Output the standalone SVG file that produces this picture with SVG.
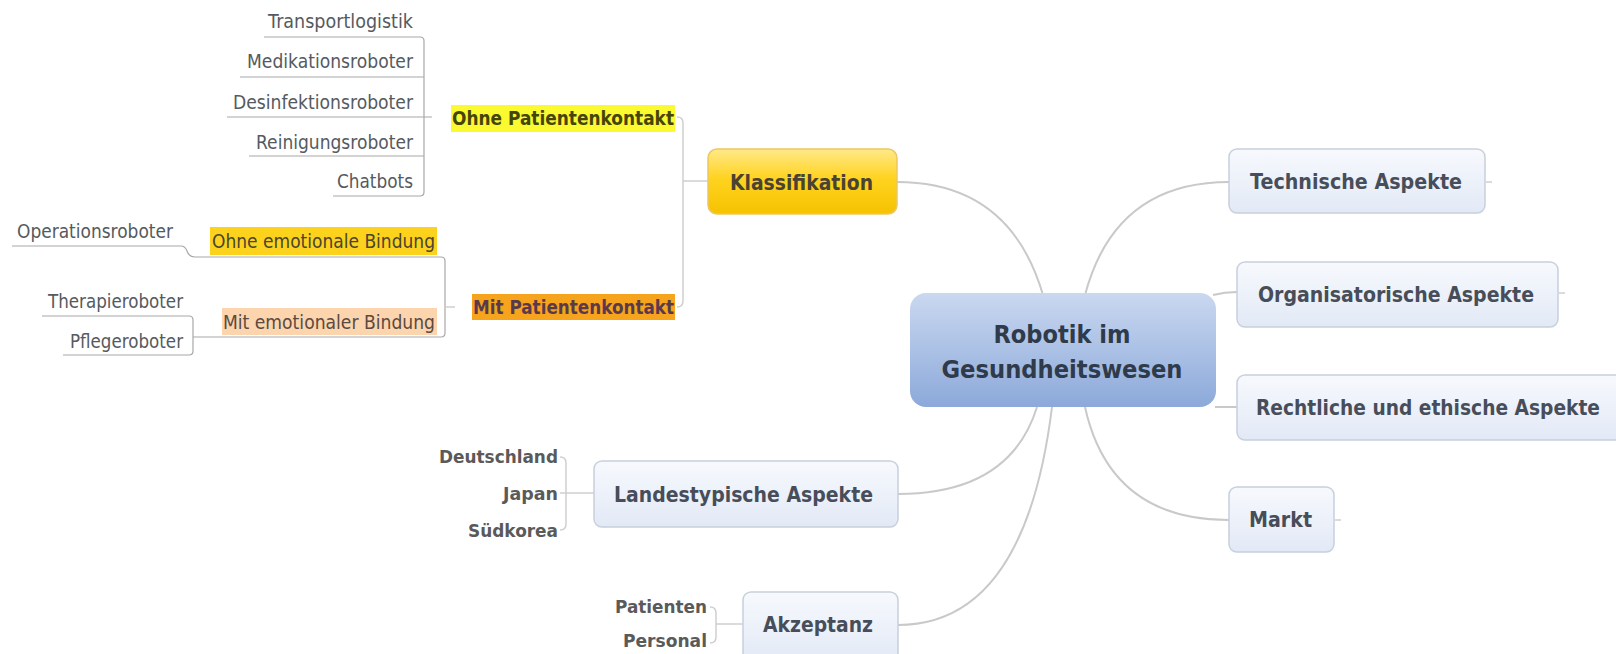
<svg xmlns="http://www.w3.org/2000/svg" width="1616" height="654" viewBox="0 0 1616 654">
<defs>
<linearGradient id="gBlue" x1="0" y1="0" x2="0" y2="1"><stop offset="0" stop-color="#f7f9fd"/><stop offset="1" stop-color="#e2e9f6"/></linearGradient>
<linearGradient id="gGold" x1="0" y1="0" x2="0" y2="1"><stop offset="0" stop-color="#ffe98a"/><stop offset="0.45" stop-color="#ffd320"/><stop offset="1" stop-color="#f6c200"/></linearGradient>
<linearGradient id="gCenter" x1="0" y1="0" x2="0" y2="1"><stop offset="0" stop-color="#cad8f0"/><stop offset="1" stop-color="#8ca9da"/></linearGradient>
<style>
.box{fill:url(#gBlue);stroke:#c8d0dc;stroke-width:1.5}
.bt{font-family:"DejaVu Sans","Liberation Sans",sans-serif;font-weight:bold;font-size:22px;fill:#474d59}
.lf{font-family:"DejaVu Sans","Liberation Sans",sans-serif;font-size:19.5px;fill:#555a60}
.lb{font-family:"DejaVu Sans","Liberation Sans",sans-serif;font-weight:bold;font-size:18px;fill:#5a5a5a}
.hb{font-family:"DejaVu Sans","Liberation Sans",sans-serif;font-weight:bold;font-size:20px}
.hr{font-family:"DejaVu Sans","Liberation Sans",sans-serif;font-size:19.5px}
.c{fill:none;stroke:#c9c9c9;stroke-width:2}
.u{fill:none;stroke:#a8a8a8;stroke-width:1.2}
.k{fill:none;stroke:#cfcfcf;stroke-width:1.5}
</style>
</defs>
<rect width="1616" height="654" fill="#ffffff"/>

<g id="connectors">
<path class="c" d="M897,182 Q1010,182 1043,295"/>
<path class="c" d="M1085,295 Q1115,182 1229,182"/>
<path class="c" d="M1213,295 Q1225,292 1237,292"/>
<path class="c" d="M1215,407 H1237"/>
<path class="c" d="M1085,407 Q1110,520 1229,520"/>
<path class="c" d="M1037,407 Q1010,494 898,494"/>
<path class="c" d="M1052,407 Q1025,625 898,625"/>
<path class="k" d="M677,117 q6,0 6,6 V301 q0,6 -6,6"/>
<path class="k" d="M683,181 H708"/>
<path class="u" d="M264,37 H420 q4,0 4,4 V192 q0,4 -4,4 H333"/>
<path class="u" d="M240,77 H424"/>
<path class="u" d="M227,117 H432"/>
<path class="u" d="M249,156 H424"/>
<path class="u" d="M12,246 H181 q4,0 6,5 q2,6 8,6 H441 q4,0 4,4 V333 q0,4 -4,4 H193"/>
<path class="k" d="M445,307 H455"/>
<path class="u" d="M42,316 H189 q4,0 4,4 V351 q0,4 -4,4 H63"/>
<path class="k" d="M560,457 q6,0 6,6 V524 q0,6 -6,6"/>
<path class="k" d="M560,493 H594"/>
<path class="k" d="M710,607 q6,0 6,6 V637 q0,6 -6,6"/>
<path class="k" d="M716,624 H743"/>
<path class="k" d="M1486,182 H1492"/>
<path class="k" d="M1559,293 H1565"/>
<path class="k" d="M1335,520 H1341"/>
</g>

<g id="node-center">
<rect x="910" y="293" width="306" height="114" rx="16" fill="url(#gCenter)"/>
<text x="1062" y="343" text-anchor="middle" font-family="DejaVu Sans, Liberation Sans, sans-serif" font-weight="bold" font-size="25" fill="#2f3a4a" textLength="137" lengthAdjust="spacingAndGlyphs">Robotik im</text>
<text x="1062" y="378" text-anchor="middle" font-family="DejaVu Sans, Liberation Sans, sans-serif" font-weight="bold" font-size="25" fill="#2f3a4a" textLength="241" lengthAdjust="spacingAndGlyphs">Gesundheitswesen</text>
</g>

<g id="node-klassifikation">
<rect x="708" y="149" width="189" height="65" rx="9" fill="url(#gGold)" stroke="#ecc85e" stroke-width="1.5"/>
<text class="bt" x="730" y="190" style="fill:#4a4232" textLength="143" lengthAdjust="spacingAndGlyphs">Klassifikation</text>
</g>

<g id="node-technische">
<rect class="box" x="1229" y="149" width="256" height="64" rx="8"/>
<text class="bt" x="1250" y="189" textLength="212" lengthAdjust="spacingAndGlyphs">Technische Aspekte</text>
</g>

<g id="node-organisatorische">
<rect class="box" x="1237" y="262" width="321" height="65" rx="8"/>
<text class="bt" x="1258" y="302" textLength="276" lengthAdjust="spacingAndGlyphs">Organisatorische Aspekte</text>
</g>

<g id="node-rechtliche">
<rect class="box" x="1237" y="375" width="400" height="65" rx="8"/>
<text class="bt" x="1256" y="415" textLength="344" lengthAdjust="spacingAndGlyphs">Rechtliche und ethische Aspekte</text>
</g>

<g id="node-markt">
<rect class="box" x="1229" y="487" width="105" height="65" rx="8"/>
<text class="bt" x="1249" y="527" textLength="63" lengthAdjust="spacingAndGlyphs">Markt</text>
</g>

<g id="node-landestypische">
<rect class="box" x="594" y="461" width="304" height="66" rx="8"/>
<text class="bt" x="614" y="502" textLength="259" lengthAdjust="spacingAndGlyphs">Landestypische Aspekte</text>
</g>

<g id="node-akzeptanz">
<rect class="box" x="743" y="592" width="155" height="70" rx="8"/>
<text class="bt" x="763" y="632" textLength="110" lengthAdjust="spacingAndGlyphs">Akzeptanz</text>
</g>

<g id="node-ohne-patientenkontakt">
<rect x="451" y="105" width="224" height="27" fill="#fbf930"/>
<text class="hb" x="452" y="125" fill="#45450a" textLength="222" lengthAdjust="spacingAndGlyphs">Ohne Patientenkontakt</text>
</g>

<g id="node-mit-patientenkontakt">
<rect x="472" y="294" width="203" height="26" fill="#f6a31e"/>
<text class="hb" x="473" y="314" fill="#5a3a4a" textLength="201" lengthAdjust="spacingAndGlyphs">Mit Patientenkontakt</text>
</g>

<g id="node-ohne-emotionale">
<rect x="210" y="227" width="227" height="28" fill="#fdd21c"/>
<text class="hr" x="212" y="248" fill="#4a4530" textLength="223" lengthAdjust="spacingAndGlyphs">Ohne emotionale Bindung</text>
</g>

<g id="node-mit-emotionaler">
<rect x="222" y="308" width="215" height="27" fill="#fcd4ae"/>
<text class="hr" x="223" y="329" fill="#5a4a40" textLength="212" lengthAdjust="spacingAndGlyphs">Mit emotionaler Bindung</text>
</g>

<g id="node-transportlogistik"><text class="lf" x="413" y="28" text-anchor="end" textLength="145" lengthAdjust="spacingAndGlyphs">Transportlogistik</text></g>
<g id="node-medikationsroboter"><text class="lf" x="413" y="68" text-anchor="end" textLength="166" lengthAdjust="spacingAndGlyphs">Medikationsroboter</text></g>
<g id="node-desinfektionsroboter"><text class="lf" x="413" y="109" text-anchor="end" textLength="180" lengthAdjust="spacingAndGlyphs">Desinfektionsroboter</text></g>
<g id="node-reinigungsroboter"><text class="lf" x="413" y="149" text-anchor="end" textLength="157" lengthAdjust="spacingAndGlyphs">Reinigungsroboter</text></g>
<g id="node-chatbots"><text class="lf" x="413" y="188" text-anchor="end" textLength="76" lengthAdjust="spacingAndGlyphs">Chatbots</text></g>
<g id="node-operationsroboter"><text class="lf" x="17" y="238" textLength="156" lengthAdjust="spacingAndGlyphs">Operationsroboter</text></g>
<g id="node-therapieroboter"><text class="lf" x="183" y="308" text-anchor="end" textLength="135" lengthAdjust="spacingAndGlyphs">Therapieroboter</text></g>
<g id="node-pflegeroboter"><text class="lf" x="183" y="348" text-anchor="end" textLength="113" lengthAdjust="spacingAndGlyphs">Pflegeroboter</text></g>

<g id="node-deutschland"><text class="lb" x="558" y="463" text-anchor="end" textLength="119" lengthAdjust="spacingAndGlyphs">Deutschland</text></g>
<g id="node-japan"><text class="lb" x="558" y="500" text-anchor="end" textLength="55" lengthAdjust="spacingAndGlyphs">Japan</text></g>
<g id="node-suedkorea"><text class="lb" x="558" y="537" text-anchor="end" textLength="90" lengthAdjust="spacingAndGlyphs">Südkorea</text></g>
<g id="node-patienten"><text class="lb" x="707" y="613" text-anchor="end" textLength="92" lengthAdjust="spacingAndGlyphs">Patienten</text></g>
<g id="node-personal"><text class="lb" x="707" y="647" text-anchor="end" textLength="84" lengthAdjust="spacingAndGlyphs">Personal</text></g>
</svg>
